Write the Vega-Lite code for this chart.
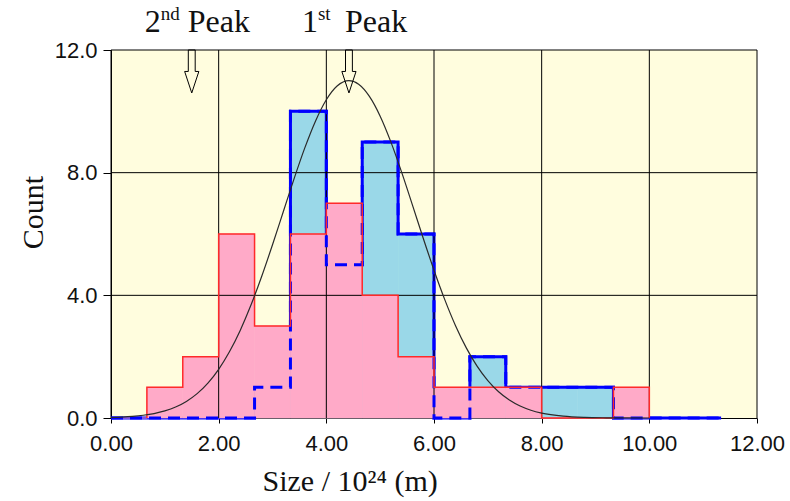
{
  "$schema": "https://vega.github.io/schema/vega-lite/v6.json",
  "width": 646,
  "height": 368,
  "autosize": {"type": "none"},
  "padding": {"left": 111, "top": 50, "right": 33, "bottom": 83},
  "background": "white",
  "view": {"fill": "#FFFDDE", "stroke": null},
  "config": {
    "axis": {"domainColor": "black", "tickColor": "black", "labelColor": "#111111", "titleColor": "#111111", "labelFont": "Liberation Sans", "labelFontSize": 22, "titleFont": "Liberation Serif", "titleFontSize": 30, "titleFontWeight": "normal", "grid": false, "labelFlush": false, "labelOverlap": false}
  },
  "datasets": {
    "bins": [
      {"x0": 0.0, "x1": 0.6667, "pink": 0, "blue": 0},
      {"x0": 0.6667, "x1": 1.3333, "pink": 1, "blue": 0},
      {"x0": 1.3333, "x1": 2.0, "pink": 2, "blue": 0},
      {"x0": 2.0, "x1": 2.6667, "pink": 6, "blue": 0},
      {"x0": 2.6667, "x1": 3.3333, "pink": 3, "blue": 1},
      {"x0": 3.3333, "x1": 4.0, "pink": 6, "blue": 10},
      {"x0": 4.0, "x1": 4.6667, "pink": 7, "blue": 5},
      {"x0": 4.6667, "x1": 5.3333, "pink": 4, "blue": 9},
      {"x0": 5.3333, "x1": 6.0, "pink": 2, "blue": 6},
      {"x0": 6.0, "x1": 6.6667, "pink": 1, "blue": 0},
      {"x0": 6.6667, "x1": 7.3333, "pink": 1, "blue": 2},
      {"x0": 7.3333, "x1": 8.0, "pink": 1, "blue": 1},
      {"x0": 8.0, "x1": 8.6667, "pink": 0, "blue": 1},
      {"x0": 8.6667, "x1": 9.3333, "pink": 0, "blue": 1},
      {"x0": 9.3333, "x1": 10.0, "pink": 1, "blue": 0}
    ],
    "blueStep": [
      {"x": 0.0, "y": 0}, {"x": 2.6667, "y": 1}, {"x": 3.3333, "y": 10}, {"x": 4.0, "y": 5},
      {"x": 4.6667, "y": 9}, {"x": 5.3333, "y": 6}, {"x": 6.0, "y": 0}, {"x": 6.6667, "y": 2},
      {"x": 7.3333, "y": 1}, {"x": 8.0, "y": 1}, {"x": 8.6667, "y": 1}, {"x": 9.3333, "y": 0},
      {"x": 11.3333, "y": 0}
    ],
    "redStep": [
      {"x": 0.6667, "y": 0}, {"x": 0.6667, "y": 1}, {"x": 1.3333, "y": 2}, {"x": 2.0, "y": 6},
      {"x": 2.6667, "y": 3}, {"x": 3.3333, "y": 6}, {"x": 4.0, "y": 7}, {"x": 4.6667, "y": 4},
      {"x": 5.3333, "y": 2}, {"x": 6.0, "y": 1}, {"x": 6.6667, "y": 1}, {"x": 7.3333, "y": 1},
      {"x": 8.0, "y": 0}, {"x": 9.3333, "y": 0}, {"x": 9.3333, "y": 1}, {"x": 10.0, "y": 0}
    ],
    "curve": [
      {"x": 0.0, "y": 0.017}, {"x": 0.2, "y": 0.031}, {"x": 0.4, "y": 0.053}, {"x": 0.6, "y": 0.089},
      {"x": 0.8, "y": 0.145}, {"x": 1.0, "y": 0.231}, {"x": 1.2, "y": 0.357}, {"x": 1.4, "y": 0.54},
      {"x": 1.6, "y": 0.794}, {"x": 1.8, "y": 1.138}, {"x": 2.0, "y": 1.588}, {"x": 2.2, "y": 2.158},
      {"x": 2.4, "y": 2.857}, {"x": 2.6, "y": 3.682}, {"x": 2.8, "y": 4.621}, {"x": 3.0, "y": 5.65},
      {"x": 3.2, "y": 6.725}, {"x": 3.4, "y": 7.799}, {"x": 3.6, "y": 8.808}, {"x": 3.8, "y": 9.688},
      {"x": 4.0, "y": 10.378}, {"x": 4.2, "y": 10.825}, {"x": 4.42, "y": 11.0}, {"x": 4.6, "y": 10.883},
      {"x": 4.8, "y": 10.487}, {"x": 5.0, "y": 9.843}, {"x": 5.2, "y": 8.996}, {"x": 5.4, "y": 8.009},
      {"x": 5.6, "y": 6.943}, {"x": 5.8, "y": 5.862}, {"x": 6.0, "y": 4.82}, {"x": 6.2, "y": 3.861},
      {"x": 6.4, "y": 3.011}, {"x": 6.6, "y": 2.287}, {"x": 6.8, "y": 1.692}, {"x": 7.0, "y": 1.219},
      {"x": 7.2, "y": 0.855}, {"x": 7.4, "y": 0.585}, {"x": 7.6, "y": 0.389}, {"x": 7.8, "y": 0.252},
      {"x": 8.0, "y": 0.159}, {"x": 8.4, "y": 0.059}, {"x": 8.8, "y": 0.019}, {"x": 9.2, "y": 0.006},
      {"x": 9.6, "y": 0.0015}, {"x": 10.0, "y": 0.0003}
    ],
    "peaks": [
      {"x": 1.5, "num": "2", "sup": "nd", "word": "Peak"},
      {"x": 4.42, "num": "1", "sup": "st", "word": "Peak"}
    ],
    "xgrid": [{"v": 0}, {"v": 2}, {"v": 4}, {"v": 6}, {"v": 8}, {"v": 10}, {"v": 12}],
    "ygrid": [{"v": 4}, {"v": 8}, {"v": 12}]
  },
  "layer": [
    {
      "data": {"name": "bins"},
      "mark": {"type": "rect", "color": "#9AD8E8", "stroke": "#9AD8E8", "strokeWidth": 0.6},
      "encoding": {
        "x": {"field": "x0", "type": "quantitative", "scale": {"domain": [0, 12], "nice": false},
          "axis": {"values": [0, 2, 4, 6, 8, 10, 12], "format": ".2f", "tickSize": 5, "labelPadding": 10,
            "title": "Size / 10²⁴ (m)", "titleAnchor": "start", "titleAlign": "left", "titleX": 151, "titleY": 72, "titleBaseline": "alphabetic"}},
        "x2": {"field": "x1"},
        "y": {"field": "blue", "type": "quantitative", "scale": {"domain": [0, 12], "nice": false},
          "axis": {"values": [0, 4, 8, 12], "format": ".1f", "tickSize": 8, "labelPadding": 6,
            "title": "Count", "titleX": -69, "titleY": 162, "titleAlign": "center", "titleBaseline": "alphabetic", "titleAngle": -90}},
        "y2": {"datum": 0}
      }
    },
    {
      "data": {"name": "blueStep"},
      "mark": {"type": "line", "interpolate": "step-after", "stroke": "#0000FF", "strokeWidth": 3},
      "encoding": {
        "x": {"field": "x", "type": "quantitative"},
        "y": {"field": "y", "type": "quantitative"}
      }
    },
    {
      "data": {"name": "bins"},
      "mark": {"type": "rect", "color": "#FFAAC8", "stroke": "#FFAAC8", "strokeWidth": 0.6},
      "encoding": {
        "x": {"field": "x0", "type": "quantitative"},
        "x2": {"field": "x1"},
        "y": {"field": "pink", "type": "quantitative"},
        "y2": {"datum": 0}
      }
    },
    {
      "data": {"name": "xgrid"},
      "mark": {"type": "rule", "stroke": "black", "strokeWidth": 1},
      "encoding": {"x": {"field": "v", "type": "quantitative"}}
    },
    {
      "data": {"name": "ygrid"},
      "mark": {"type": "rule", "stroke": "black", "strokeWidth": 1},
      "encoding": {"y": {"field": "v", "type": "quantitative"}}
    },
    {
      "data": {"name": "blueStep"},
      "mark": {"type": "line", "interpolate": "step-after", "stroke": "#0000FF", "strokeWidth": 3, "strokeDash": [12, 7]},
      "encoding": {
        "x": {"field": "x", "type": "quantitative"},
        "y": {"field": "y", "type": "quantitative"}
      }
    },
    {
      "data": {"name": "redStep"},
      "mark": {"type": "line", "interpolate": "step-after", "stroke": "#FF2A2A", "strokeWidth": 1.5},
      "encoding": {
        "x": {"field": "x", "type": "quantitative"},
        "y": {"field": "y", "type": "quantitative"}
      }
    },
    {
      "data": {"name": "curve"},
      "mark": {"type": "line", "interpolate": "monotone", "stroke": "#2A2A2A", "strokeWidth": 1.2},
      "encoding": {
        "x": {"field": "x", "type": "quantitative"},
        "y": {"field": "y", "type": "quantitative"}
      }
    },
    {
      "data": {"name": "peaks"},
      "mark": {"type": "point", "shape": "M-0.16,-1L0.16,-1L0.16,0L0.33,0L0,1L-0.33,0L-0.16,0Z", "size": 1849, "filled": false, "stroke": "black", "strokeWidth": 1, "opacity": 1},
      "encoding": {
        "x": {"field": "x", "type": "quantitative"},
        "y": {"datum": 11.3}
      }
    },
    {
      "data": {"name": "peaks"},
      "mark": {"type": "text", "font": "Liberation Serif", "fontSize": 32, "align": "right", "baseline": "alphabetic", "dx": -31, "color": "#111111"},
      "encoding": {
        "x": {"field": "x", "type": "quantitative"},
        "y": {"datum": 12.6},
        "text": {"field": "num"}
      }
    },
    {
      "data": {"name": "peaks"},
      "mark": {"type": "text", "font": "Liberation Serif", "fontSize": 19, "align": "left", "baseline": "alphabetic", "dx": -31, "dy": -12, "color": "#111111"},
      "encoding": {
        "x": {"field": "x", "type": "quantitative"},
        "y": {"datum": 12.6},
        "text": {"field": "sup"}
      }
    },
    {
      "data": {"name": "peaks"},
      "mark": {"type": "text", "font": "Liberation Serif", "fontSize": 32, "align": "left", "baseline": "alphabetic", "dx": -4, "color": "#111111"},
      "encoding": {
        "x": {"field": "x", "type": "quantitative"},
        "y": {"datum": 12.6},
        "text": {"field": "word"}
      }
    }
  ]
}
